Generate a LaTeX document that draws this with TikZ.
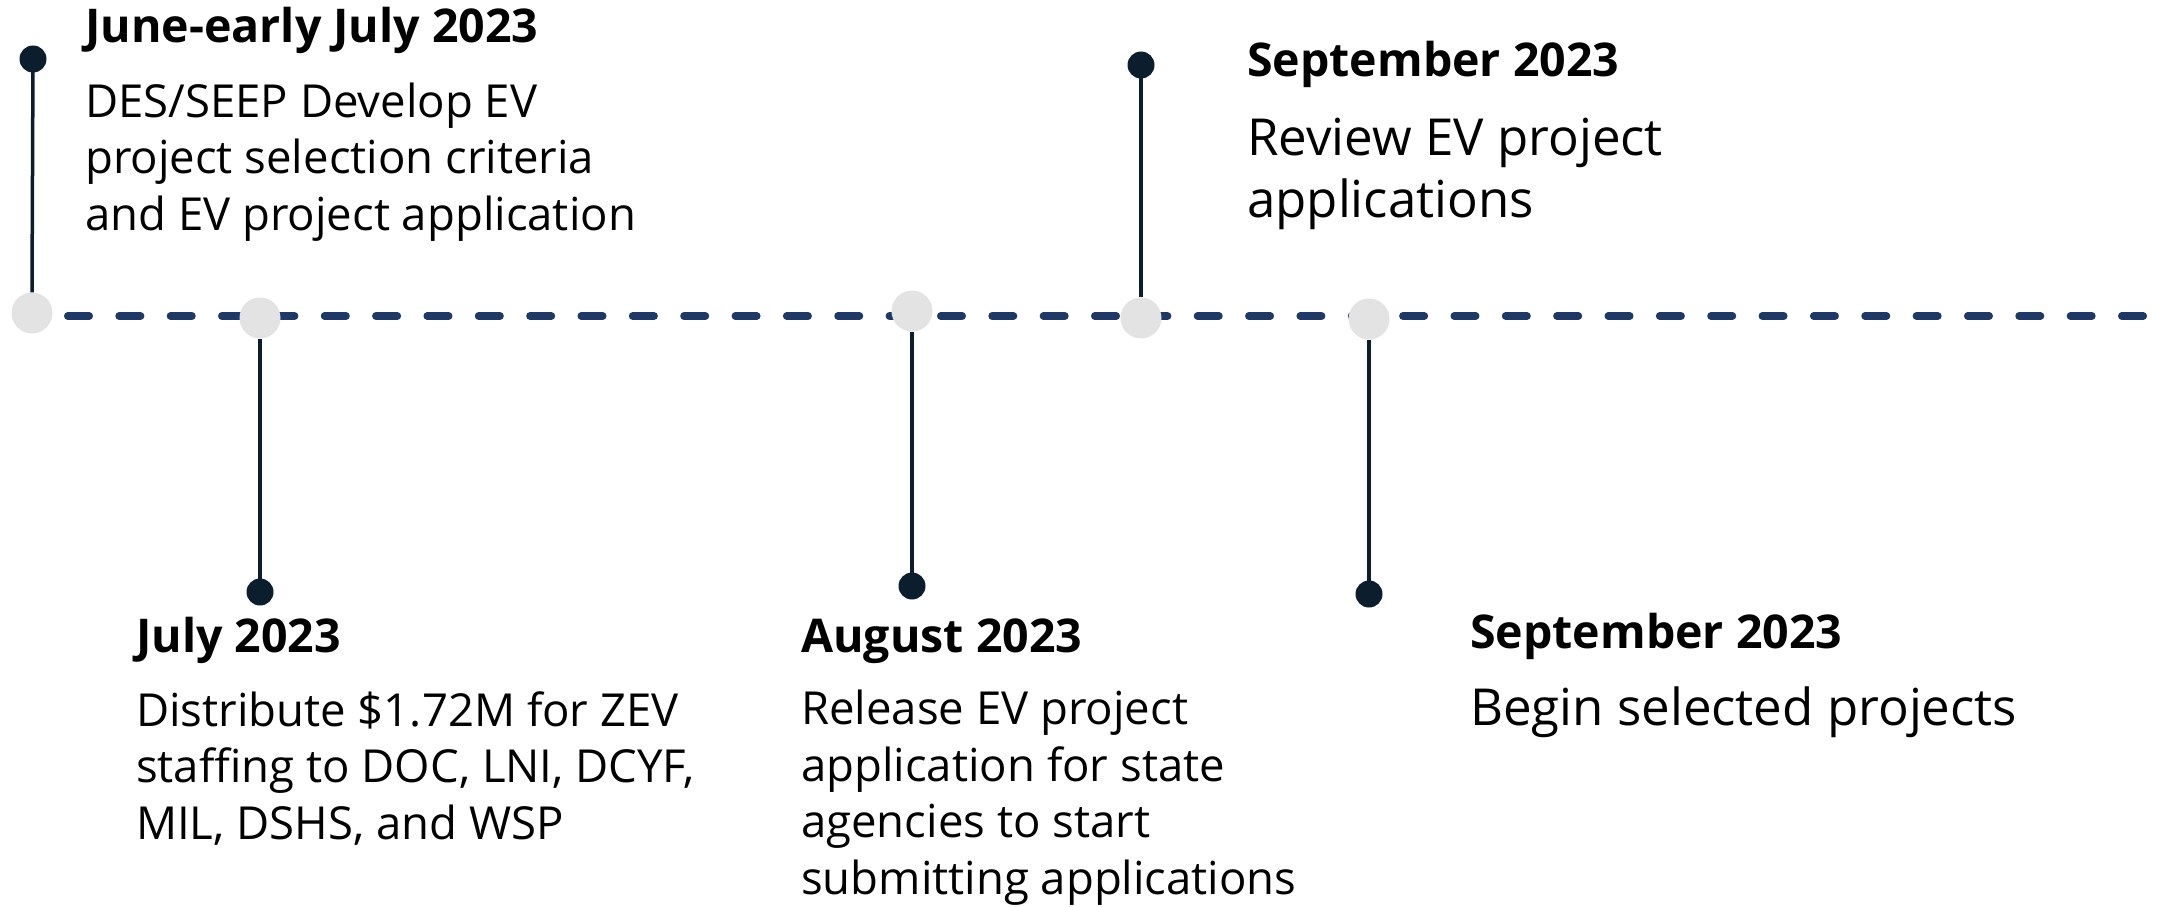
\documentclass[tikz,border=0pt]{standalone}
\usepackage{fontspec}
\setmainfont{Open Sans}
\definecolor{navy}{HTML}{1F3864}
\definecolor{pindark}{HTML}{0C1E2E}
\definecolor{hubgray}{HTML}{E3E3E3}
\tikzset{
  tl/.style={draw=navy, line width=7.5pt, line cap=round, dash pattern=on 21.5pt off 29.85pt},
  hub/.style={circle, fill=hubgray, minimum size=41pt, inner sep=0pt},
  pin/.style={circle, fill=pindark, minimum size=27pt, inner sep=0pt},
  stem/.style={draw=pindark, line width=3.5pt},
  ttl/.style={anchor=base west, inner sep=0pt, font=\fontsize{46.5}{50}\selectfont\bfseries},
  bodytxt/.style={anchor=base west, inner sep=0pt, align=left, font=\fontsize{45.5}{56.5}\selectfont},
  bodybig/.style={anchor=base west, inner sep=0pt, align=left, font=\fontsize{51}{62}\selectfont}
}
\begin{document}
\begin{tikzpicture}[x=1pt, y=-1pt]
\useasboundingbox (0,0) rectangle (2158,907);
% timeline
\coordinate (tlstart) at (67.75,316);
\coordinate (tlend) at (2175,316);
\draw[tl] (tlstart) -- (tlend);
% pins, hubs and stems
\node[hub] (c1) at (32,313) {};
\node[hub] (c2) at (260,318) {};
\node[hub] (c3) at (912,311) {};
\node[hub] (c4) at (1141,318) {};
\node[hub] (c5) at (1369,319) {};
\coordinate (p1) at (33,59);
\coordinate (p2) at (260,592);
\coordinate (p3) at (912,586);
\coordinate (p4) at (1141,65);
\coordinate (p5) at (1369,594);
\draw[stem] (p1) -- (c1.north);
\draw[stem] (c2.south) -- (p2);
\draw[stem] (c3.south) -- (p3);
\draw[stem] (p4) -- (c4.north);
\draw[stem] (c5.south) -- (p5);
\node[pin] (d1) at (p1) {};
\node[pin] (d2) at (p2) {};
\node[pin] (d3) at (p3) {};
\node[pin] (d4) at (p4) {};
\node[pin] (d5) at (p5) {};
% texts
\node[ttl] (t1) at (85,43) {June-early July 2023};
\node[bodytxt] (b1) at (85,230) {DES/SEEP Develop EV\\project selection criteria\\and EV project application};
\node[ttl] (t2) at (136,652) {July 2023};
\node[bodytxt] (b2) at (136,839) {Distribute \$1.72M for ZEV\\staffing to DOC, LNI, DCYF,\\MIL, DSHS, and WSP};
\node[ttl] (t3) at (801,652) {August 2023};
\node[bodytxt] (b3) at (801,894) {Release EV project\\application for state\\agencies to start\\submitting applications};
\node[ttl] (t4) at (1247,77) {September 2023};
\node[bodybig] (b4) at (1247,217) {Review EV project\\applications};
\node[ttl] (t5) at (1470,648) {September 2023};
\node[bodybig] (b5) at (1470,725) {Begin selected projects};
\end{tikzpicture}
\end{document}
